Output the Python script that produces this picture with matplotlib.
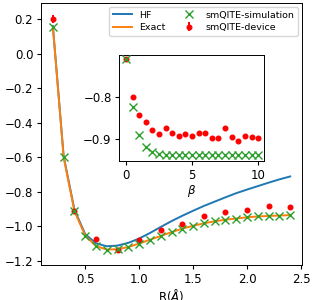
import matplotlib
matplotlib.use("Agg")
import matplotlib.pyplot as plt
import numpy as np

# Main panel data
R = [0.2, 0.3, 0.4, 0.5, 0.6, 0.7, 0.8, 0.9, 1.0, 1.1, 1.2, 1.3, 1.4, 1.5,
     1.6, 1.7, 1.8, 1.9, 2.0, 2.1, 2.2, 2.3, 2.4]
E_hf = [0.160, -0.595, -0.905, -1.047, -1.100, -1.117, -1.113, -1.097, -1.072,
        -1.040, -1.005, -0.971, -0.940, -0.911, -0.883, -0.858, -0.833, -0.809,
        -0.788, -0.768, -0.748, -0.729, -0.712]
E_exact = [0.157, -0.602, -0.914, -1.055, -1.116, -1.136, -1.134, -1.121, -1.101,
           -1.079, -1.057, -1.035, -1.015, -0.998, -0.984, -0.972, -0.963, -0.956,
           -0.949, -0.944, -0.941, -0.939, -0.936]
E_sim = [0.157, -0.602, -0.914, -1.055, -1.116, -1.136, -1.134, -1.121, -1.101,
         -1.079, -1.057, -1.035, -1.015, -0.998, -0.984, -0.972, -0.963, -0.956,
         -0.949, -0.944, -0.941, -0.939, -0.936]
R_dev = [0.2, 0.4, 0.6, 0.8, 1.0, 1.2, 1.4, 1.6, 1.8, 2.0, 2.2, 2.4]
E_dev = [0.200, -0.910, -1.074, -1.141, -1.083, -1.025, -0.989, -0.944, -0.921,
         -0.906, -0.881, -0.892]
E_dev_err = [0.022, 0.004, 0.004, 0.004, 0.004, 0.004, 0.004, 0.004, 0.004,
             0.004, 0.004, 0.004]

# Inset data
beta = [0.0, 0.5, 1.0, 1.5, 2.0, 2.5, 3.0, 3.5, 4.0, 4.5, 5.0, 5.5, 6.0, 6.5,
        7.0, 7.5, 8.0, 8.5, 9.0, 9.5, 10.0]
E_beta_sim = [-0.712, -0.824, -0.890, -0.918, -0.929, -0.934, -0.936, -0.937,
              -0.937, -0.937, -0.937, -0.937, -0.937, -0.937, -0.937, -0.937,
              -0.937, -0.937, -0.937, -0.937, -0.937]
E_beta_dev = [-0.712, -0.801, -0.843, -0.860, -0.879, -0.887, -0.873, -0.886,
              -0.891, -0.887, -0.891, -0.885, -0.886, -0.898, -0.896, -0.873,
              -0.894, -0.905, -0.893, -0.894, -0.897]
E_beta_dev_err = [0.004] + [0.0] * 20

fs = 8.5
fig = plt.figure(figsize=(3.14, 3.0), dpi=100)
ax = fig.add_axes([0.1306, 0.117, 0.8314, 0.873])

ax.plot(R, E_hf, color='tab:blue', lw=1.4, label='HF')
ax.plot(R, E_exact, color='tab:orange', lw=1.4, label='Exact')
ax.errorbar(R_dev, E_dev, yerr=E_dev_err, fmt='o', color='red', ms=3.3,
            elinewidth=1.4, label='smQITE-device', zorder=3)
ax.plot(R, E_sim, 'x', color='tab:green', ms=5.8, mew=1.0,
        label='smQITE-simulation', zorder=4)

ax.set_xlim(0.09, 2.51)
ax.set_ylim(-1.225, 0.294)
ax.set_xticks([0.5, 1.0, 1.5, 2.0, 2.5])
ax.set_yticks([-1.2, -1.0, -0.8, -0.6, -0.4, -0.2, 0.0, 0.2])
ax.set_xlabel(r'R($\AA$)', fontsize=fs, labelpad=1)
ax.tick_params(labelsize=fs, length=3.0, pad=2.5)
for s in ax.spines.values():
    s.set_linewidth(0.7)

h, l = ax.get_legend_handles_labels()
order = [l.index('HF'), l.index('Exact'), l.index('smQITE-simulation'),
         l.index('smQITE-device')]
ax.legend([h[i] for i in order], [l[i] for i in order], ncol=2, loc='upper right',
          fontsize=6.8, handlelength=2.0, columnspacing=1.4, borderaxespad=0.4,
          labelspacing=0.35)

ins = fig.add_axes([0.380, 0.463, 0.461, 0.354])
ins.errorbar(beta, E_beta_dev, yerr=E_beta_dev_err, fmt='o', color='red',
             ms=3.3, elinewidth=1.4, zorder=3)
ins.plot(beta, E_beta_sim, 'x', color='tab:green', ms=5.8, mew=1.0, zorder=4)
ins.set_xticks([0, 5, 10])
ins.set_yticks([-0.8, -0.9])
ins.set_xlim(-0.5, 10.45)
ins.set_ylim(-0.951, -0.702)
ins.tick_params(labelsize=fs, length=3.0, pad=2.5)
for s in ins.spines.values():
    s.set_linewidth(0.7)
ins.set_xlabel(r'$\beta$', fontsize=fs, labelpad=1)

fig.savefig('out.png', dpi=100)
